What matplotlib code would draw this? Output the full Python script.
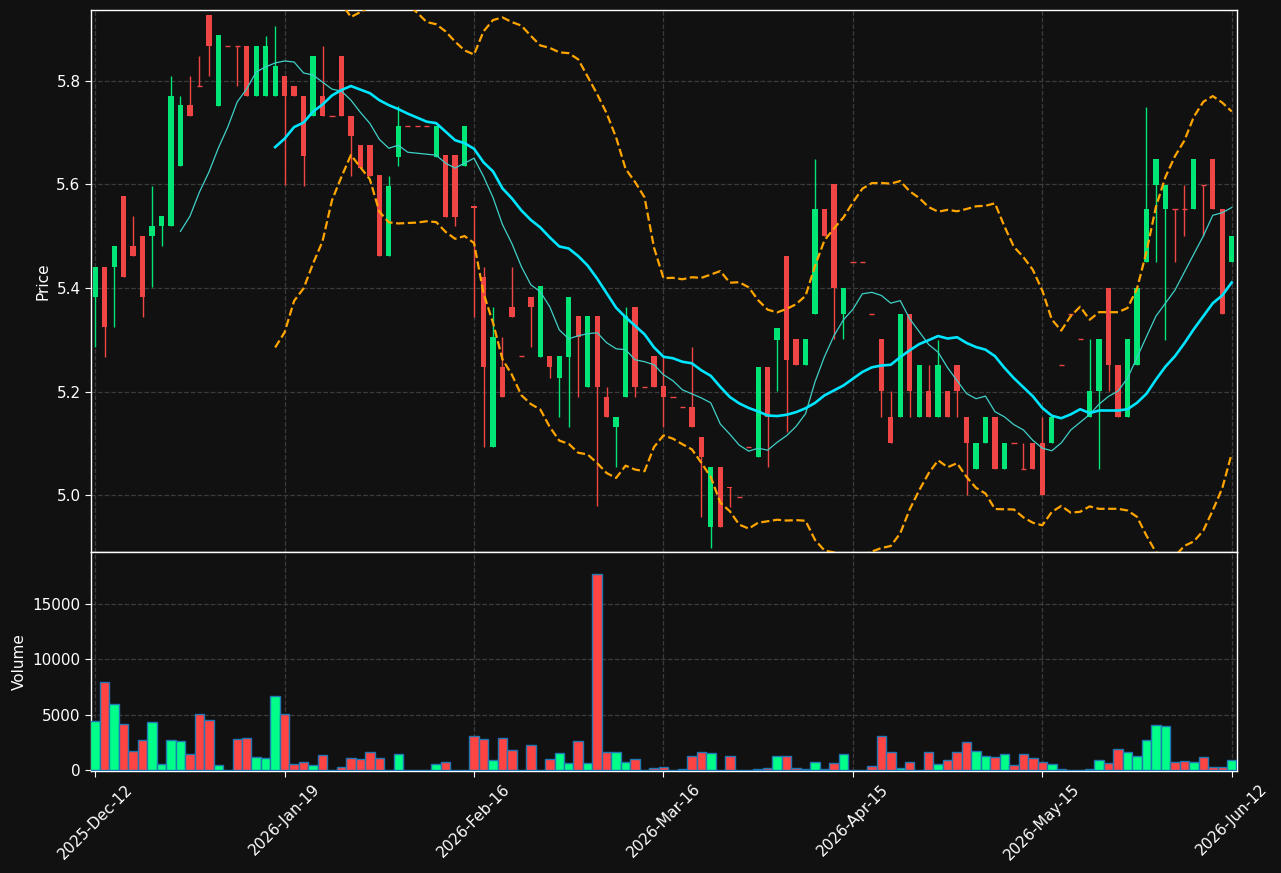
import numpy as np
import pandas as pd
import matplotlib
matplotlib.use("Agg")
import matplotlib.pyplot as plt

# ---------------- data ----------------
opens = [5.382, 5.441, 5.440, 5.578, 5.482, 5.500, 5.500, 5.520, 5.520, 5.635,
         5.753, 5.790, 5.927, 5.751, 5.868, 5.868, 5.868, 5.770, 5.770, 5.770,
         5.810, 5.790, 5.771, 5.732, 5.771, 5.732, 5.848, 5.732, 5.676, 5.676,
         5.618, 5.462, 5.654, 5.713, 5.713, 5.713, 5.654, 5.656, 5.656, 5.635,
         5.558, 5.422, 5.093, 5.248, 5.363, 5.268, 5.383, 5.267, 5.268, 5.227,
         5.267, 5.345, 5.209, 5.345, 5.190, 5.131, 5.190, 5.363, 5.209, 5.268,
         5.210, 5.190, 5.170, 5.170, 5.112, 4.938, 5.054, 5.015, 4.997, 5.092,
         5.073, 5.248, 5.299, 5.461, 5.301, 5.251, 5.350, 5.552, 5.600, 5.350,
         5.451, 5.451, 5.350, 5.301, 5.151, 5.151, 5.350, 5.151, 5.201, 5.151,
         5.201, 5.252, 5.151, 5.050, 5.101, 5.151, 5.050, 5.101, 5.050, 5.101,
         5.101, 5.101, 5.252, 5.350, 5.301, 5.151, 5.201, 5.400, 5.251, 5.151,
         5.251, 5.451, 5.599, 5.552, 5.552, 5.552, 5.552, 5.599, 5.649, 5.552,
         5.451]
highs = [5.441, 5.441, 5.482, 5.578, 5.540, 5.500, 5.597, 5.540, 5.810, 5.771,
         5.810, 5.849, 5.927, 5.888, 5.868, 5.868, 5.868, 5.868, 5.887, 5.906,
         5.810, 5.790, 5.771, 5.848, 5.868, 5.732, 5.848, 5.732, 5.676, 5.676,
         5.618, 5.616, 5.752, 5.713, 5.713, 5.713, 5.713, 5.656, 5.656, 5.713,
         5.558, 5.441, 5.363, 5.306, 5.441, 5.268, 5.383, 5.403, 5.268, 5.268,
         5.383, 5.345, 5.345, 5.345, 5.209, 5.151, 5.363, 5.363, 5.209, 5.268,
         5.266, 5.190, 5.170, 5.286, 5.112, 5.054, 5.054, 5.015, 4.997, 5.092,
         5.248, 5.248, 5.322, 5.461, 5.301, 5.301, 5.649, 5.552, 5.600, 5.400,
         5.451, 5.451, 5.350, 5.301, 5.201, 5.350, 5.350, 5.252, 5.252, 5.299,
         5.201, 5.252, 5.151, 5.101, 5.151, 5.151, 5.101, 5.101, 5.101, 5.101,
         5.151, 5.151, 5.252, 5.350, 5.301, 5.301, 5.301, 5.400, 5.251, 5.301,
         5.400, 5.750, 5.649, 5.599, 5.552, 5.599, 5.649, 5.599, 5.649, 5.552,
         5.501]
lows = [5.286, 5.267, 5.325, 5.421, 5.461, 5.344, 5.402, 5.482, 5.520, 5.635,
        5.732, 5.790, 5.810, 5.751, 5.868, 5.790, 5.770, 5.770, 5.770, 5.770,
        5.599, 5.770, 5.597, 5.732, 5.732, 5.732, 5.732, 5.616, 5.632, 5.616,
        5.462, 5.462, 5.635, 5.713, 5.713, 5.713, 5.654, 5.538, 5.519, 5.635,
        5.344, 5.093, 5.093, 5.190, 5.344, 5.268, 5.286, 5.267, 5.227, 5.151,
        5.131, 5.190, 5.209, 4.978, 5.151, 5.054, 5.190, 5.190, 5.209, 5.209,
        5.131, 5.190, 5.170, 5.131, 4.958, 4.898, 4.938, 4.976, 4.997, 5.092,
        5.073, 5.054, 5.201, 5.121, 5.251, 5.251, 5.350, 5.500, 5.301, 5.301,
        5.451, 5.451, 5.350, 5.151, 5.101, 5.151, 5.151, 5.151, 5.151, 5.151,
        5.151, 5.151, 5.000, 5.050, 5.101, 5.050, 5.050, 5.101, 5.050, 5.050,
        5.000, 5.101, 5.252, 5.350, 5.301, 5.151, 5.050, 5.201, 5.151, 5.151,
        5.251, 5.451, 5.451, 5.299, 5.451, 5.501, 5.552, 5.501, 5.552, 5.350,
        5.451]
closes = [5.441, 5.324, 5.482, 5.421, 5.461, 5.382, 5.520, 5.540, 5.771, 5.753,
          5.732, 5.790, 5.867, 5.888, 5.868, 5.868, 5.770, 5.868, 5.868, 5.829,
          5.770, 5.770, 5.655, 5.848, 5.732, 5.732, 5.732, 5.693, 5.632, 5.616,
          5.462, 5.598, 5.713, 5.713, 5.713, 5.713, 5.713, 5.538, 5.538, 5.713,
          5.555, 5.247, 5.306, 5.190, 5.344, 5.268, 5.363, 5.403, 5.247, 5.268,
          5.383, 5.306, 5.345, 5.209, 5.151, 5.151, 5.345, 5.209, 5.209, 5.209,
          5.190, 5.190, 5.170, 5.131, 5.073, 5.054, 4.938, 5.013, 4.997, 5.092,
          5.248, 5.151, 5.322, 5.260, 5.251, 5.301, 5.552, 5.500, 5.400, 5.400,
          5.451, 5.451, 5.350, 5.201, 5.101, 5.350, 5.201, 5.252, 5.151, 5.252,
          5.151, 5.201, 5.101, 5.101, 5.151, 5.050, 5.101, 5.101, 5.050, 5.050,
          5.000, 5.151, 5.252, 5.350, 5.301, 5.201, 5.301, 5.251, 5.151, 5.301,
          5.400, 5.552, 5.649, 5.599, 5.552, 5.552, 5.649, 5.599, 5.552, 5.350,
          5.501]
volumes = [4460, 7943, 5961, 4159, 1757, 2748, 4339, 556, 2748, 2658,
           1456, 5060, 4550, 465, 30, 2838, 2928, 1216, 1126, 6712,
           5060, 556, 736, 465, 1396, 0, 315, 1126, 1036, 1667,
           1126, 30, 1456, 0, 0, 0, 556, 736, 30, 30,
           3108, 2838, 946, 2928, 1847, 0, 2297, 30, 1036, 1577,
           646, 2658, 646, 17703, 1667, 1667, 736, 1036, 0, 225,
           315, 0, 135, 1306, 1667, 1577, 0, 1306, 30, 30,
           135, 225, 1306, 1306, 225, 135, 736, 135, 646, 1456,
           30, 30, 375, 3108, 1667, 225, 736, 30, 1667, 556,
           946, 1667, 2568, 1757, 1306, 1216, 1486, 496, 1486, 1126,
           736, 556, 135, 30, 30, 135, 946, 676, 1937, 1667,
           1306, 2748, 4099, 4009, 736, 826, 736, 1216, 315, 315,
           946]
tick_labels = ["2025-Dec-12", "2026-Jan-19", "2026-Feb-16", "2026-Mar-16",
               "2026-Apr-15", "2026-May-15", "2026-Jun-12"]
tick_step = 20

# ---------------- style ----------------
BG = "#111111"
UP = "#00e676"
DOWN = "#f04545"
VUP = "#00ff88"
VDOWN = "#ff4444"
GRID = "#3c3c3c"
TXT = "white"

df = pd.DataFrame({"open": opens, "high": highs, "low": lows,
                   "close": closes, "volume": volumes})
x = np.arange(len(df))
up = df["close"] > df["open"]
ccol = np.where(up, UP, DOWN)
vcol = np.where(up, VUP, VDOWN)

ma10 = df["close"].rolling(10).mean()
ma20 = df["close"].rolling(20).mean()
sd20 = df["close"].rolling(20).std(ddof=0)
bb_up = ma20 + 2 * sd20
bb_lo = ma20 - 2 * sd20

fig = plt.figure(figsize=(12.81, 8.73), dpi=100, facecolor=BG)
ax = fig.add_axes([0.0710, 0.3677, 0.8946, 0.6208])
axv = fig.add_axes([0.0710, 0.1168, 0.8946, 0.2509], sharex=ax)

for a in (ax, axv):
    a.set_facecolor(BG)
    for s in a.spines.values():
        s.set_color("white")
        s.set_linewidth(1.0)
    a.grid(True, color=GRID, linestyle="--", linewidth=0.9)
    a.set_axisbelow(True)
    a.tick_params(colors=TXT, labelsize=11, length=4)

# candles
body_w = 0.56
ax.vlines(x, df["low"], df["high"], colors=ccol, linewidth=1.0, zorder=2)
bh = (df["close"] - df["open"]).abs()
bottoms = np.minimum(df["open"], df["close"])
ax.bar(x, bh, bottom=bottoms, width=body_w, color=ccol, linewidth=0, zorder=3)
doji = bh < 1e-6
ax.hlines(df["close"][doji], x[doji] - body_w / 2, x[doji] + body_w / 2,
          colors=np.asarray(ccol)[doji], linewidth=1.0, zorder=3)

# indicators
ax.plot(x, bb_up, color="#ffa500", linestyle="--", linewidth=1.6, zorder=4)
ax.plot(x, bb_lo, color="#ffa500", linestyle="--", linewidth=1.6, zorder=4)
ax.plot(x, ma10, color="#3fd0c8", linewidth=0.9, zorder=4)
ax.plot(x, ma20, color="#00e5ff", linewidth=1.9, zorder=4)

ax.set_ylim(4.890, 5.937)
ax.set_yticks([5.0, 5.2, 5.4, 5.6, 5.8])
ax.set_yticklabels([f"{v:.1f}" for v in [5.0, 5.2, 5.4, 5.6, 5.8]])
ax.set_ylabel("Price", color=TXT, fontsize=11)
ax.tick_params(axis="x", which="both", bottom=False, labelbottom=False)

# volume
axv.bar(x, df["volume"], width=1.0, color=vcol, edgecolor="#1f77b4",
        linewidth=1.0, zorder=3)
axv.set_ylim(-60, 19650)
axv.set_yticks([0, 5000, 10000, 15000])
axv.set_ylabel("Volume", color=TXT, fontsize=11)

ticks = np.arange(0, len(df), tick_step)
axv.set_xticks(ticks)
axv.set_xticklabels(tick_labels, rotation=45, ha="center")
axv.set_xlim(-0.45, len(df) - 0.45)

fig.savefig("out.png", dpi=100, facecolor=BG)
